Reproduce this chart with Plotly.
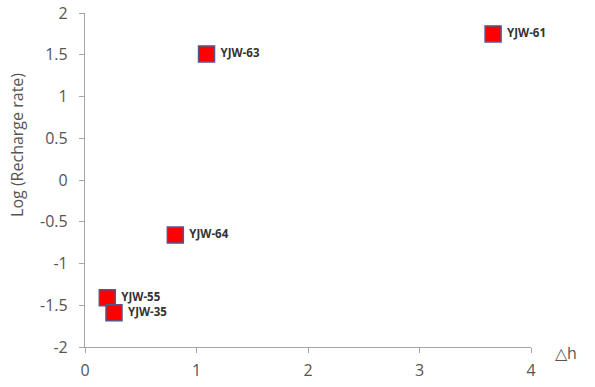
import plotly.graph_objects as go

wells = ["YJW-61", "YJW-63", "YJW-64", "YJW-55", "YJW-35"]
dh = [3.66, 1.09, 0.81, 0.20, 0.26]
log_rate = [1.75, 1.51, -0.66, -1.41, -1.59]

x_ticks = [0, 1, 2, 3, 4]
y_ticks = [2, 1.5, 1, 0.5, 0, -0.5, -1, -1.5, -2]
y_tick_text = ["2", "1.5", "1", "0.5", "0", "-0.5", "-1", "-1.5", "-2"]

fig = go.Figure()
fig.add_trace(go.Scatter(
    x=dh, y=log_rate, mode="markers+text",
    text=[" " + w for w in wells], textposition="middle right",
    textfont=dict(family="Open Sans", size=11.5, color="#333333", weight="bold"),
    marker=dict(symbol="square", size=16, color="#ff0000",
                line=dict(color="#55558a", width=1.5)),
    cliponaxis=False, showlegend=False,
))

axis_common = dict(showgrid=False, zeroline=False, showline=True,
                   linecolor="#a6a6a6", linewidth=1.2, ticks="outside",
                   ticklen=5, tickcolor="#a6a6a6", automargin=False,
                   tickfont=dict(family="Open Sans", size=16, color="#555555"))

fig.update_xaxes(range=[0, 4], tickvals=x_ticks, ticklabelstandoff=4, **axis_common)
fig.update_yaxes(range=[-2, 2], tickvals=y_ticks, ticktext=y_tick_text,
                 ticklabelstandoff=8, **axis_common)

fig.add_annotation(x=0, y=0.605, xref="paper", yref="paper", text="Log (Recharge rate)",
                   textangle=-90, showarrow=False, xanchor="center", yanchor="middle",
                   xshift=-68,
                   font=dict(family="Open Sans", size=16, color="#555555"))

fig.add_annotation(x=1, y=0, xref="paper", yref="paper", text="△h",
                   showarrow=False, xanchor="left", yanchor="middle",
                   xshift=22, yshift=-6,
                   font=dict(family="Open Sans", size=16, color="#555555"))

fig.update_layout(width=595, height=387, plot_bgcolor="white", paper_bgcolor="white",
                  margin=dict(l=85, r=64, t=13, b=40, autoexpand=False))

fig.write_html("out.html")
